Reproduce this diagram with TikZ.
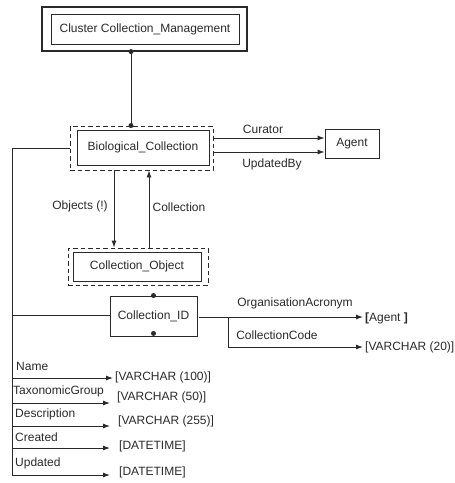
\documentclass[tikz,border=0pt]{standalone}
\usepackage{fontspec}
\setmainfont{Liberation Sans}
\usetikzlibrary{arrows.meta,calc}
\definecolor{ink}{HTML}{2a2a2a}
\tikzset{
  every node/.style={font=\fontsize{12}{14}\selectfont, text=ink},
  box/.style={draw=ink, line width=0.9pt, rectangle, inner sep=0pt},
  dbox/.style={draw=ink, line width=0.9pt, dash pattern=on 4.5pt off 3pt, rectangle, inner sep=0pt},
  lbl/.style={inner sep=0pt},
  conn/.style={draw=ink, line width=0.9pt},
  arr/.style={conn, -{Latex[length=7pt,width=5pt]}},
  dot/.style={fill=ink, circle, inner sep=0pt, minimum size=5pt},
}
\begin{document}
\begin{tikzpicture}[x=1pt,y=-1pt]
\useasboundingbox (0,0) rectangle (455,483);

% cluster box (double frame)
\node[box, line width=1.2pt, minimum width=205pt, minimum height=44pt] (clO) at (144.5,29) {};
\node[box, minimum width=188pt, minimum height=30pt] (clI) at (145,29) {Cluster Collection\_Management};

% Biological_Collection with dashed frame
\node[dbox, minimum width=143pt, minimum height=44pt] (bioD) at (141.5,148) {};
\node[box, minimum width=132pt, minimum height=35pt] (bio) at (143,147.5) {Biological\_Collection};

% Agent
\node[box, minimum width=54pt, minimum height=29pt] (agent) at (352,143.5) {Agent};

% Collection_Object with dashed frame
\node[dbox, minimum width=140pt, minimum height=37pt] (coD) at (138,266.5) {};
\node[box, minimum width=128pt, minimum height=29pt] (co) at (137,266.5) {Collection\_Object};

% Collection_ID
\node[box, minimum width=87pt, minimum height=40pt] (cid) at (153.5,316) {Collection\_ID};

% cluster link
\draw[conn] (clO.south -| 131,0) -- (bioD.north -| 131,0);
\node[dot] (d1) at (clO.south -| 131,0) {};
\node[dot] (d2) at (bioD.north -| 131,0) {};

% links to Agent
\draw[arr] ([yshift=10pt]bioD.east) -- ([yshift=10pt]bioD.east -| agent.west);
\draw[arr] ([yshift=-4pt]bioD.east) -- ([yshift=-4pt]bioD.east -| agent.west);
\node[lbl] (lCur) at (263,129) {Curator};
\node[lbl] (lUpd) at (272,164) {UpdatedBy};

% links between collection and objects
\draw[arr] ([xshift=-27.5pt]bioD.south) -- ([xshift=-27.5pt]bioD.south |- coD.north);
\draw[arr] ([xshift=7.5pt]bioD.south |- coD.north) -- ([xshift=7.5pt]bioD.south);
\node[lbl] (lObj) at (80,206) {Objects (!)};
\node[lbl] (lCol) at (179,207) {Collection};

% attribute trunk
\coordinate (tCID) at (12,315);
\coordinate (tName) at (12,378);
\coordinate (tTax) at (12,403);
\coordinate (tDesc) at (12,426);
\coordinate (tCre) at (12,448);
\coordinate (tUpd) at (12,475);
\draw[conn] (bioD.west) -| (tUpd);

% Collection_ID composite key
\draw[conn] (tCID) -- (tCID -| cid.west);
\node[dot] (d3) at (cid.north) {};
\node[dot] (d4) at ([yshift=3pt]cid.south) {};
\coordinate (kStart) at ([xshift=2pt,yshift=-1pt]cid.east);
\coordinate (kSplit) at (228,317);
\coordinate (kAg) at (363,317);
\coordinate (kCode) at (363,347);
\draw[arr] (kStart) -- (kAg);
\draw[arr] (kSplit) |- (kCode);
\node[lbl] (lOrg) at (295,303) {OrganisationAcronym};
\node[lbl] (lCode) at (277,335) {CollectionCode};
\node[lbl, anchor=west] (vAg) at (365,318) {{\bfseries[}Agent {\bfseries]}};
\node[lbl, anchor=west] (vCode) at (365,347) {[VARCHAR (20)]};

% simple attributes
\coordinate (hName) at (113,378);
\coordinate (hTax) at (110,403);
\coordinate (hDesc) at (110,426);
\coordinate (hCre) at (110,448);
\coordinate (hUpd) at (110,475);
\draw[arr] (tName) -- (hName);
\draw[arr] (tTax) -- (hTax);
\draw[arr] (tDesc) -- (hDesc);
\draw[arr] (tCre) -- (hCre);
\draw[arr] (tUpd) -- (hUpd);

\node[lbl, anchor=west] (nName) at (16,366) {Name};
\node[lbl, anchor=west] (nTax) at (13,391) {TaxonomicGroup};
\node[lbl, anchor=west] (nDesc) at (15,414) {Description};
\node[lbl, anchor=west] (nCre) at (15,437) {Created};
\node[lbl, anchor=west] (nUpd) at (15,463) {Updated};

\node[lbl, anchor=west] (vName) at (115,377) {[VARCHAR (100)]};
\node[lbl, anchor=west] (vTax) at (117,397) {[VARCHAR (50)]};
\node[lbl, anchor=west] (vDesc) at (118,421) {[VARCHAR (255)]};
\node[lbl, anchor=west] (vCre) at (119,446) {[DATETIME]};
\node[lbl, anchor=west] (vUpd) at (119,472) {[DATETIME]};
\end{tikzpicture}
\end{document}
